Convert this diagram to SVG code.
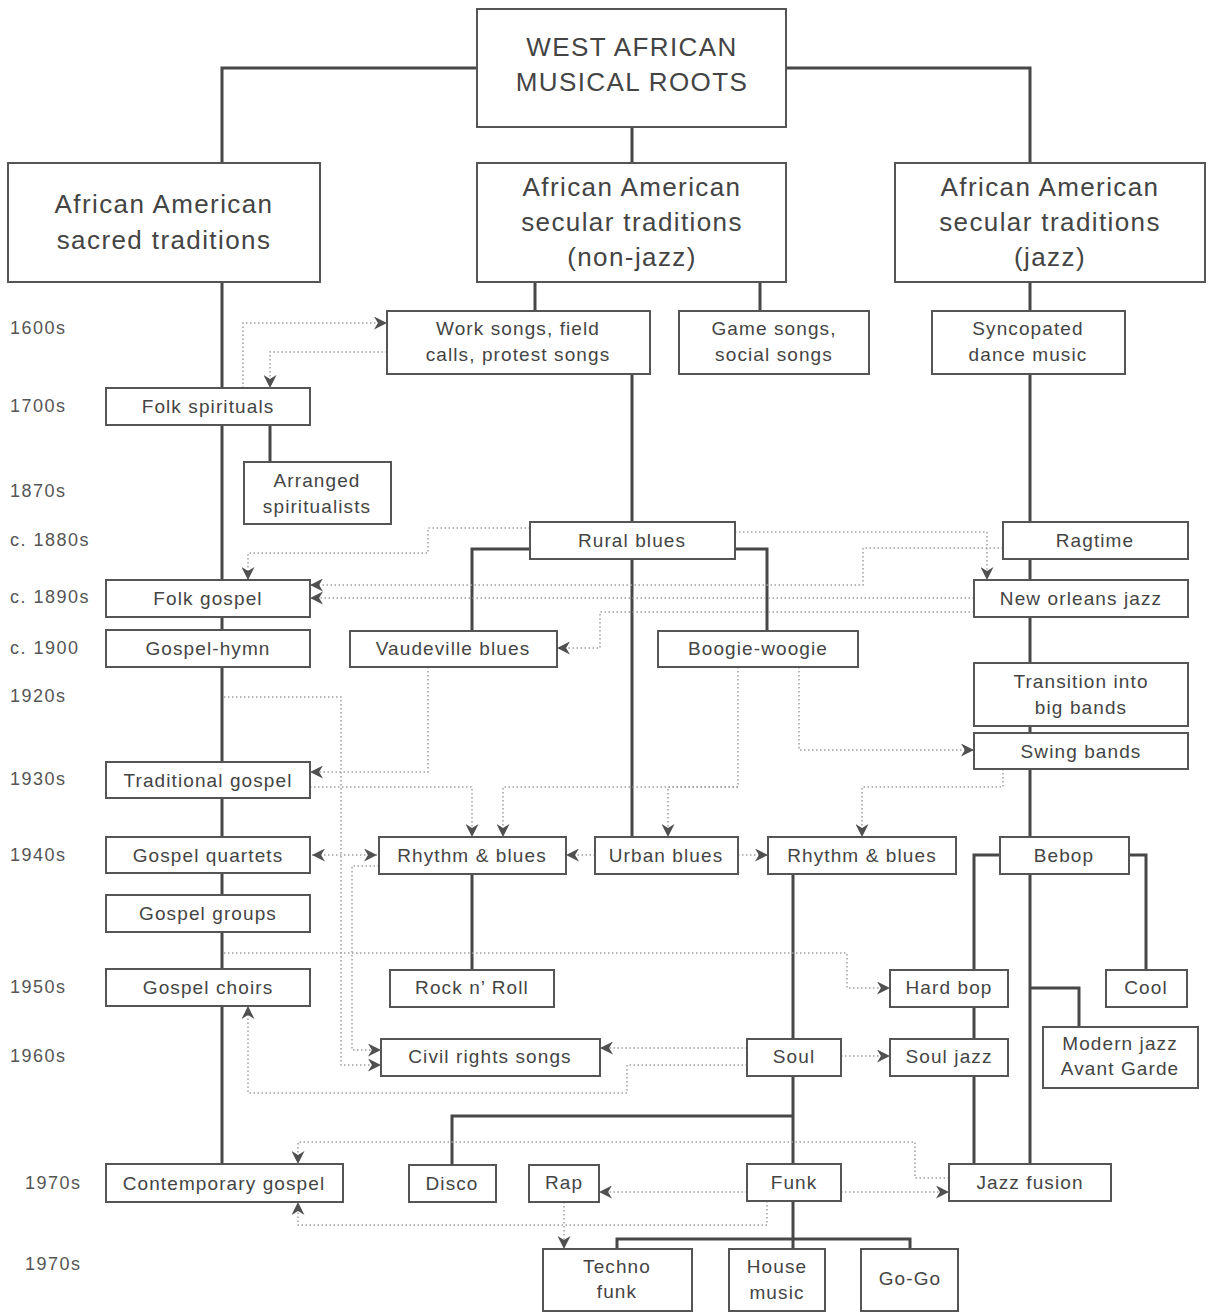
<svg xmlns="http://www.w3.org/2000/svg" width="1209" height="1313" viewBox="0 0 1209 1313">
<style>
.box{fill:#fff;stroke:#555;stroke-width:2}
.t{font-family:"Liberation Sans",Arial,sans-serif;font-size:19px;letter-spacing:1.1px;fill:#444;text-anchor:middle}
.h{font-family:"Liberation Sans",Arial,sans-serif;font-size:26px;letter-spacing:1.4px;fill:#444;text-anchor:middle}
.yr{font-family:"Liberation Sans",Arial,sans-serif;font-size:18px;letter-spacing:1.5px;fill:#555}
.solid{fill:none;stroke:#474747;stroke-width:3}
.dot{fill:none;stroke:#a0a0a0;stroke-width:1.5;stroke-dasharray:1.5 2.5}
.dot.a{marker-end:url(#arr)}
</style>
<defs>
<marker id="arr" viewBox="0 0 10 10" refX="10" refY="5" markerWidth="13" markerHeight="13" markerUnits="userSpaceOnUse" orient="auto">
<path d="M0,0 L10,5 L0,10 L3,5 z" fill="#505050"/>
</marker>
<marker id="arrs" viewBox="0 0 10 10" refX="10" refY="5" markerWidth="13" markerHeight="13" markerUnits="userSpaceOnUse" orient="auto-start-reverse">
<path d="M0,0 L10,5 L0,10 L3,5 z" fill="#505050"/>
</marker>
</defs>
<rect width="1209" height="1313" fill="#fff"/>

<g id="years">
<text class="yr" x="10" y="334">1600s</text>
<text class="yr" x="10" y="412">1700s</text>
<text class="yr" x="10" y="497">1870s</text>
<text class="yr" x="10" y="546">c. 1880s</text>
<text class="yr" x="10" y="603">c. 1890s</text>
<text class="yr" x="10" y="654">c. 1900</text>
<text class="yr" x="10" y="702">1920s</text>
<text class="yr" x="10" y="785">1930s</text>
<text class="yr" x="10" y="861">1940s</text>
<text class="yr" x="10" y="993">1950s</text>
<text class="yr" x="10" y="1062">1960s</text>
<text class="yr" x="25" y="1189">1970s</text>
<text class="yr" x="25" y="1270">1970s</text>
</g>

<g id="connectors">
<path class="solid" d="M477,68 H222 V163"/>
<path class="solid" d="M786,68 H1030 V163"/>
<path class="solid" d="M632,127 V163"/>
<path class="solid" d="M222,282 V1164"/>
<path class="solid" d="M270,425 V462"/>
<path class="solid" d="M535,282 V311"/>
<path class="solid" d="M760,282 V311"/>
<path class="solid" d="M1030,282 V1164"/>
<path class="solid" d="M632,374 V837"/>
<path class="solid" d="M530,549 H472 V631"/>
<path class="solid" d="M735,549 H767 V631"/>
<path class="solid" d="M472,874 V970"/>
<path class="solid" d="M793,874 V1164"/>
<path class="solid" d="M793,1116 H452 V1165"/>
<path class="solid" d="M793,1201 V1249"/>
<path class="solid" d="M617,1249 V1239 H910 V1249"/>
<path class="solid" d="M1000,855 H974 V1164"/>
<path class="solid" d="M1129,855 H1146 V970"/>
<path class="solid" d="M1030,988 H1079 V1027"/>

<path class="dot a" d="M243,388 V323 H387"/>
<path class="dot a" d="M387,352 H270 V388"/>
<path class="dot a" d="M530,528 H428 V553 H248 V580"/>
<path class="dot a" d="M735,532 H987 V580"/>
<path class="dot a" d="M1003,548 H863 V585 H310"/>
<path class="dot a" d="M974,598 H310"/>
<path class="dot a" d="M974,612 H600 V648 H557"/>
<path class="dot a" d="M799,667 V750 H974"/>
<path class="dot a" d="M428,667 V772 H310"/>
<path class="dot a" d="M310,787 H472 V837"/>
<path class="dot a" d="M738,667 V787 H503 V837"/>
<path class="dot a" d="M738,787 H668 V837"/>
<path class="dot a" d="M1003,769 V787 H862 V837"/>
<path class="dot" d="M312,855 H377" marker-start="url(#arrs)" marker-end="url(#arrs)"/>
<path class="dot a" d="M595,855 H566"/>
<path class="dot a" d="M738,855 H768"/>
<path class="dot a" d="M379,866 H352 V1050 H381"/>
<path class="dot a" d="M224,697 H341 V1065 H381"/>
<path class="dot a" d="M224,953 H847 V988 H890"/>
<path class="dot a" d="M747,1048 H600"/>
<path class="dot a" d="M747,1065 H627 V1093 H248 V1006"/>
<path class="dot a" d="M841,1056 H890"/>
<path class="dot a" d="M949,1178 H915 V1142 H298 V1164"/>
<path class="dot a" d="M841,1192 H949"/>
<path class="dot a" d="M747,1192 H599"/>
<path class="dot a" d="M767,1201 V1225 H298 V1202"/>
<path class="dot a" d="M564,1202 V1249"/>
</g>

<g id="root"><rect class="box" x="477" y="9" width="309" height="118"/>
<text class="h" x="632" y="56">WEST AFRICAN</text><text class="h" x="632" y="91">MUSICAL ROOTS</text></g>
<g id="sacred"><rect class="box" x="8" y="163" width="312" height="119"/>
<text class="h" x="164" y="213">African American</text><text class="h" x="164" y="249">sacred traditions</text></g>
<g id="nonjazz"><rect class="box" x="477" y="163" width="309" height="119"/>
<text class="h" x="632" y="196">African American</text><text class="h" x="632" y="231">secular traditions</text><text class="h" x="632" y="266">(non-jazz)</text></g>
<g id="jazz"><rect class="box" x="895" y="163" width="310" height="119"/>
<text class="h" x="1050" y="196">African American</text><text class="h" x="1050" y="231">secular traditions</text><text class="h" x="1050" y="266">(jazz)</text></g>

<g id="work"><rect class="box" x="387" y="311" width="263" height="63"/>
<text class="t" x="518" y="335">Work songs, field</text><text class="t" x="518" y="361">calls, protest songs</text></g>
<g id="game"><rect class="box" x="679" y="311" width="190" height="63"/>
<text class="t" x="774" y="335">Game songs,</text><text class="t" x="774" y="361">social songs</text></g>
<g id="sync"><rect class="box" x="932" y="311" width="193" height="63"/>
<text class="t" x="1028" y="335">Syncopated</text><text class="t" x="1028" y="361">dance music</text></g>

<g id="folkspir"><rect class="box" x="106" y="388" width="204" height="37"/><text class="t" x="208" y="413">Folk spirituals</text></g>
<g id="arranged"><rect class="box" x="244" y="462" width="147" height="62"/>
<text class="t" x="317" y="487">Arranged</text><text class="t" x="317" y="513">spiritualists</text></g>
<g id="rural"><rect class="box" x="530" y="522" width="205" height="37"/><text class="t" x="632" y="547">Rural blues</text></g>
<g id="ragtime"><rect class="box" x="1003" y="522" width="185" height="37"/><text class="t" x="1095" y="547">Ragtime</text></g>
<g id="folkgospel"><rect class="box" x="106" y="580" width="204" height="37"/><text class="t" x="208" y="605">Folk gospel</text></g>
<g id="neworleans"><rect class="box" x="974" y="580" width="214" height="37"/><text class="t" x="1081" y="605">New orleans jazz</text></g>
<g id="gospelhymn"><rect class="box" x="106" y="630" width="204" height="37"/><text class="t" x="208" y="655">Gospel-hymn</text></g>
<g id="vaudeville"><rect class="box" x="350" y="631" width="207" height="36"/><text class="t" x="453" y="655">Vaudeville blues</text></g>
<g id="boogie"><rect class="box" x="658" y="631" width="200" height="36"/><text class="t" x="758" y="655">Boogie-woogie</text></g>
<g id="transition"><rect class="box" x="974" y="663" width="214" height="63"/>
<text class="t" x="1081" y="688">Transition into</text><text class="t" x="1081" y="714">big bands</text></g>
<g id="swing"><rect class="box" x="974" y="733" width="214" height="36"/><text class="t" x="1081" y="758">Swing bands</text></g>
<g id="tradgospel"><rect class="box" x="106" y="762" width="204" height="36"/><text class="t" x="208" y="787">Traditional gospel</text></g>
<g id="quartets"><rect class="box" x="106" y="837" width="204" height="36"/><text class="t" x="208" y="862">Gospel quartets</text></g>
<g id="rnb1"><rect class="box" x="379" y="837" width="187" height="37"/><text class="t" x="472" y="862">Rhythm &amp; blues</text></g>
<g id="urban"><rect class="box" x="595" y="837" width="143" height="37"/><text class="t" x="666" y="862">Urban blues</text></g>
<g id="rnb2"><rect class="box" x="768" y="837" width="188" height="37"/><text class="t" x="862" y="862">Rhythm &amp; blues</text></g>
<g id="bebop"><rect class="box" x="1000" y="837" width="129" height="37"/><text class="t" x="1064" y="862">Bebop</text></g>
<g id="groups"><rect class="box" x="106" y="895" width="204" height="37"/><text class="t" x="208" y="920">Gospel groups</text></g>
<g id="choirs"><rect class="box" x="106" y="969" width="204" height="37"/><text class="t" x="208" y="994">Gospel choirs</text></g>
<g id="rock"><rect class="box" x="390" y="970" width="164" height="37"/><text class="t" x="472" y="994">Rock n’ Roll</text></g>
<g id="hardbop"><rect class="box" x="890" y="970" width="118" height="37"/><text class="t" x="949" y="994">Hard bop</text></g>
<g id="cool"><rect class="box" x="1106" y="970" width="81" height="37"/><text class="t" x="1146" y="994">Cool</text></g>
<g id="civil"><rect class="box" x="381" y="1039" width="219" height="37"/><text class="t" x="490" y="1063">Civil rights songs</text></g>
<g id="soul"><rect class="box" x="747" y="1039" width="94" height="37"/><text class="t" x="794" y="1063">Soul</text></g>
<g id="souljazz"><rect class="box" x="890" y="1039" width="118" height="37"/><text class="t" x="949" y="1063">Soul jazz</text></g>
<g id="modern"><rect class="box" x="1043" y="1027" width="155" height="61"/>
<text class="t" x="1120" y="1050">Modern jazz</text><text class="t" x="1120" y="1075">Avant Garde</text></g>
<g id="contemp"><rect class="box" x="106" y="1164" width="237" height="38"/><text class="t" x="224" y="1190">Contemporary gospel</text></g>
<g id="disco"><rect class="box" x="409" y="1165" width="87" height="37"/><text class="t" x="452" y="1190">Disco</text></g>
<g id="rap"><rect class="box" x="529" y="1165" width="70" height="37"/><text class="t" x="564" y="1189">Rap</text></g>
<g id="funk"><rect class="box" x="747" y="1164" width="94" height="37"/><text class="t" x="794" y="1189">Funk</text></g>
<g id="jazzfusion"><rect class="box" x="949" y="1164" width="162" height="37"/><text class="t" x="1030" y="1189">Jazz fusion</text></g>
<g id="techno"><rect class="box" x="543" y="1249" width="149" height="62"/>
<text class="t" x="617" y="1273">Techno</text><text class="t" x="617" y="1298">funk</text></g>
<g id="house"><rect class="box" x="729" y="1249" width="96" height="62"/>
<text class="t" x="777" y="1273">House</text><text class="t" x="777" y="1299">music</text></g>
<g id="gogo"><rect class="box" x="861" y="1249" width="97" height="62"/><text class="t" x="910" y="1285">Go-Go</text></g>
</svg>
